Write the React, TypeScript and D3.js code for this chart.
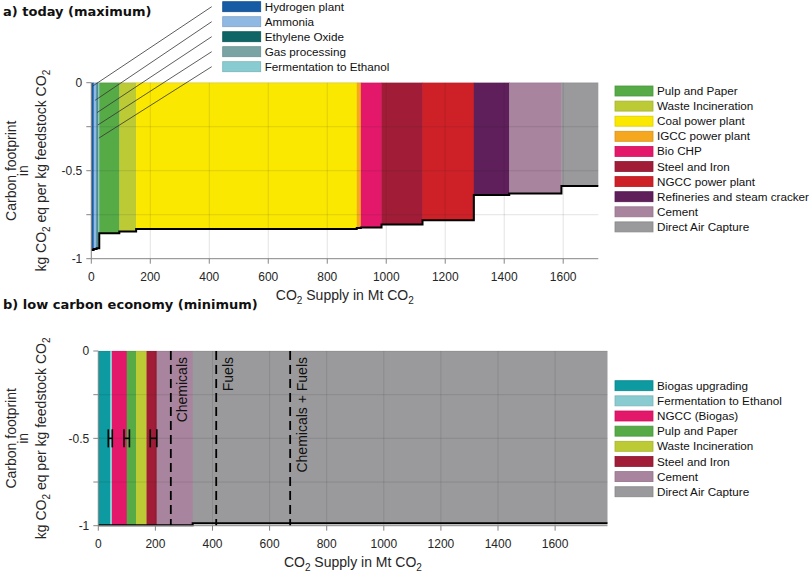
import React from "react";
import * as d3 from "d3";

// ---------- DATA ----------
// a) today (maximum)
const topCategories = [
  "Hydrogen plant",
  "Ammonia",
  "Ethylene Oxide",
  "Gas processing",
  "Fermentation to Ethanol",
  "Pulp and Paper",
  "Waste Incineration",
  "Coal power plant",
  "IGCC power plant",
  "Bio CHP",
  "Steel and Iron",
  "NGCC power plant",
  "Refineries and steam cracker",
  "Cement",
  "Direct Air Capture",
];
// CO2 supply per source (Mt CO2)
const topSupply = [8, 10, 3, 3, 3, 68, 57, 748, 14, 70, 139, 174, 120, 177, 125];
// carbon footprint (kg CO2 eq per kg feedstock CO2)
const topFootprint = [
  -0.95, -0.945, -0.94, -0.94, -0.94, -0.856, -0.846, -0.831, -0.826, -0.823, -0.805, -0.782, -0.638, -0.63, -0.587,
];
// categories listed in the small upper legend (with pointer lines)
const topSmallLegend = topCategories.slice(0, 5);
const topMainLegend = topCategories.slice(5);
// y value where each pointer line ends
const pointerY = [-0.02, -0.1, -0.17, -0.24, -0.315];

// b) low carbon economy (minimum)
const lowCategories = [
  "Biogas upgrading",
  "Fermentation to Ethanol",
  "NGCC (Biogas)",
  "Pulp and Paper",
  "Waste Incineration",
  "Steel and Iron",
  "Cement",
  "Direct Air Capture",
];
const lowSupply = [41, 7, 51.5, 32.5, 37, 35.5, 126, 1453];
const lowFootprint = [-0.998, -0.998, -0.998, -0.998, -0.998, -0.998, -0.997, -0.986];
// horizontal uncertainty bars at y = -0.5
const errLow = [35, 90, 182];
const errHigh = [49, 109, 205];
const errY = -0.5;
// demand scenarios
const demandNames = ["Chemicals", "Fuels", "Chemicals + Fuels"];
const demandValues = [254, 413, 672];

const xTicks = [0, 200, 400, 600, 800, 1000, 1200, 1400, 1600];
const yTicks = [0, -0.25, -0.5, -0.75, -1];
const yTickLabels = ["0", "", "-0.5", "", "-1"];

// ---------- STYLE ----------
const colors: Record<string, string> = {
  "Hydrogen plant": "#165ba3",
  Ammonia: "#8fb9e3",
  "Ethylene Oxide": "#0f6465",
  "Gas processing": "#7aa3a4",
  "Fermentation to Ethanol": "#88ccd2",
  "Pulp and Paper": "#56ab47",
  "Waste Incineration": "#bccb35",
  "Coal power plant": "#fbe800",
  "IGCC power plant": "#f4a71f",
  "Bio CHP": "#e3186a",
  "Steel and Iron": "#a01c37",
  "NGCC power plant": "#ce2027",
  "Refineries and steam cracker": "#5f1f5a",
  Cement: "#a8849e",
  "Direct Air Capture": "#9a9a9c",
  "Biogas upgrading": "#0d9aa0",
  "NGCC (Biogas)": "#e3186a",
};

const SANS = "'Liberation Sans', Arial, Helvetica, sans-serif";
const TITLE_FONT = "'DejaVu Sans', Verdana, sans-serif";
const AXIS_COLOR = "#858585";

type PanelProps = {
  categories: string[];
  supply: number[];
  footprint: number[];
  left: number;
  right: number;
  top: number;
  bottom: number;
  xMax: number;
  children?: (x: d3.ScaleLinear<number, number>, y: d3.ScaleLinear<number, number>) => React.ReactNode;
};

function Panel({ categories, supply, footprint, left, right, top, bottom, xMax, children }: PanelProps) {
  const x = d3.scaleLinear().domain([0, xMax]).range([left, right]);
  const y = d3.scaleLinear().domain([-1, 0]).range([bottom, top]);
  const ends = Array.from(d3.cumsum(supply));
  const starts = ends.map((_, i) => (i === 0 ? 0 : ends[i - 1]));

  const stepPts: [number, number][] = [];
  categories.forEach((_, i) => {
    stepPts.push([starts[i], footprint[i]]);
    stepPts.push([ends[i], footprint[i]]);
  });
  const stepLine = d3
    .line<[number, number]>()
    .x((d) => x(d[0]))
    .y((d) => y(d[1]));

  const cy = (top + bottom) / 2;
  const cx = (left + right) / 2;

  return (
    <g>
      {/* fills */}
      {categories.map((c, i) => {
        const x0 = x(starts[i]);
        const x1 = x(ends[i]);
        const overlap = i < categories.length - 1 ? 0.4 : 0;
        return (
          <rect
            key={c + i}
            x={x0}
            y={y(0)}
            width={Math.max(0, x1 - x0 + overlap)}
            height={y(footprint[i]) - y(0)}
            fill={colors[c]}
          />
        );
      })}
      {/* grid */}
      {xTicks.map((t) => (
        <line key={"gx" + t} x1={x(t)} x2={x(t)} y1={y(0)} y2={y(-1)} stroke="#262626" strokeOpacity={0.13} strokeWidth={1} />
      ))}
      {yTicks.slice(0, -1).map((t) => (
        <line key={"gy" + t} x1={left} x2={right} y1={y(t)} y2={y(t)} stroke="#262626" strokeOpacity={0.13} strokeWidth={1} />
      ))}
      {/* step line */}
      <path d={stepLine(stepPts) || ""} fill="none" stroke="#000" strokeWidth={2} />
      {children && children(x, y)}
      {/* axes */}
      <line x1={left} x2={right} y1={bottom} y2={bottom} stroke={AXIS_COLOR} strokeWidth={1} />
      <line x1={left} x2={left} y1={top} y2={bottom} stroke={AXIS_COLOR} strokeWidth={1} />
      {xTicks.map((t) => (
        <g key={"tx" + t}>
          <line x1={x(t)} x2={x(t)} y1={bottom} y2={bottom + 5} stroke={AXIS_COLOR} />
          <text x={x(t)} y={bottom + 22.5} textAnchor="middle" fontSize={12} fill="#262626" fontFamily={SANS}>
            {t}
          </text>
        </g>
      ))}
      {yTicks.map((t, i) => (
        <g key={"ty" + t}>
          <line x1={left - 5} x2={left} y1={y(t)} y2={y(t)} stroke={AXIS_COLOR} />
          <text x={left - 9} y={y(t)} dy="0.35em" textAnchor="end" fontSize={12} fill="#262626" fontFamily={SANS}>
            {yTickLabels[i]}
          </text>
        </g>
      ))}
      {/* x label */}
      <text x={cx} y={bottom + 41} textAnchor="middle" fontSize={14} fill="#262626" fontFamily={SANS}>
        CO
        <tspan dy={4} fontSize={10}>
          2
        </tspan>
        <tspan dy={-4}> Supply in Mt CO</tspan>
        <tspan dy={4} fontSize={10}>
          2
        </tspan>
      </text>
      {/* y label */}
      <g fontSize={14} fill="#262626" fontFamily={SANS} textAnchor="middle">
        <text transform={`translate(16,${cy}) rotate(-90)`}>Carbon footprint</text>
        <text transform={`translate(28,${cy}) rotate(-90)`}>in</text>
        <text transform={`translate(46,${cy}) rotate(-90)`}>
          kg CO
          <tspan dy={4} fontSize={10}>
            2
          </tspan>
          <tspan dy={-4}> eq per kg feedstock CO</tspan>
          <tspan dy={4} fontSize={10}>
            2
          </tspan>
        </text>
      </g>
    </g>
  );
}

function Legend({ items, x, y0, step }: { items: string[]; x: number; y0: number; step: number }) {
  return (
    <g>
      {items.map((c, i) => {
        const cy = y0 + i * step;
        const col = d3.color(colors[c]);
        const stroke = col ? col.darker(0.35).formatHex() : "#000";
        return (
          <g key={c}>
            <rect x={x} y={cy - 5} width={38} height={10} fill={colors[c]} stroke={stroke} strokeWidth={0.8} />
            <text x={x + 42} y={cy} dy="0.35em" fontSize={11.7} fill="#111" fontFamily={SANS}>
              {c}
            </text>
          </g>
        );
      })}
    </g>
  );
}

export default function App() {
  const topEnds = Array.from(d3.cumsum(topSupply));
  const topStarts = topEnds.map((_, i) => (i === 0 ? 0 : topEnds[i - 1]));
  const smallLegendX = 222.7;
  const smallLegendY0 = 6.7;
  const legendStep = 15;

  return (
    <svg width={810} height={575} style={{ position: "absolute", left: 0, top: 0, background: "#fff" }}>
      <rect x={0} y={0} width={810} height={575} fill="#fff" />
      {/* Titles */}
      <text x={3} y={15.5} fontSize={13} fontWeight="bold" fontFamily={TITLE_FONT} fill="#111">
        a) today (maximum)
      </text>
      <text x={3} y={309} fontSize={13} fontWeight="bold" fontFamily={TITLE_FONT} fill="#111">
        b) low carbon economy (minimum)
      </text>

      {/* Panel a */}
      <Panel
        categories={topCategories}
        supply={topSupply}
        footprint={topFootprint}
        left={91.3}
        right={598.3}
        top={82.7}
        bottom={258.7}
        xMax={1719}
      >
        {(x, y) => (
          <g>
            {topSmallLegend.map((c, i) => {
              const idx = topCategories.indexOf(c);
              const mid = (topStarts[idx] + topEnds[idx]) / 2;
              return (
                <line
                  key={"ptr" + c}
                  x1={smallLegendX - 11}
                  y1={smallLegendY0 + i * legendStep}
                  x2={x(mid)}
                  y2={y(pointerY[i])}
                  stroke="#333"
                  strokeWidth={0.8}
                />
              );
            })}
          </g>
        )}
      </Panel>
      <Legend items={topSmallLegend} x={smallLegendX} y0={smallLegendY0} step={legendStep} />
      <Legend items={topMainLegend} x={615} y0={91} step={15.1} />

      {/* Panel b */}
      <Panel
        categories={lowCategories}
        supply={lowSupply}
        footprint={lowFootprint}
        left={98.3}
        right={607.5}
        top={351}
        bottom={525.7}
        xMax={1783.5}
      >
        {(x, y) => (
          <g>
            {errLow.map((lo, i) => (
              <g key={"err" + i} stroke="#000" strokeWidth={1.6}>
                <line x1={x(lo)} x2={x(errHigh[i])} y1={y(errY)} y2={y(errY)} />
                <line x1={x(lo)} x2={x(lo)} y1={y(errY) - 9} y2={y(errY) + 9} />
                <line x1={x(errHigh[i])} x2={x(errHigh[i])} y1={y(errY) - 9} y2={y(errY) + 9} />
              </g>
            ))}
            {demandValues.map((v, i) => (
              <g key={"dem" + i}>
                <line x1={x(v)} x2={x(v)} y1={y(0)} y2={y(-1)} stroke="#000" strokeWidth={1.8} strokeDasharray="9,5" />
                <text
                  transform={`translate(${x(v) + 11.5},${y(0) + 6}) rotate(-90)`}
                  dy="0.35em"
                  textAnchor="end"
                  fontSize={14}
                  fill="#111"
                  fontFamily={SANS}
                >
                  {demandNames[i]}
                </text>
              </g>
            ))}
          </g>
        )}
      </Panel>
      <Legend items={lowCategories} x={615} y0={385.7} step={15.15} />
    </svg>
  );
}
